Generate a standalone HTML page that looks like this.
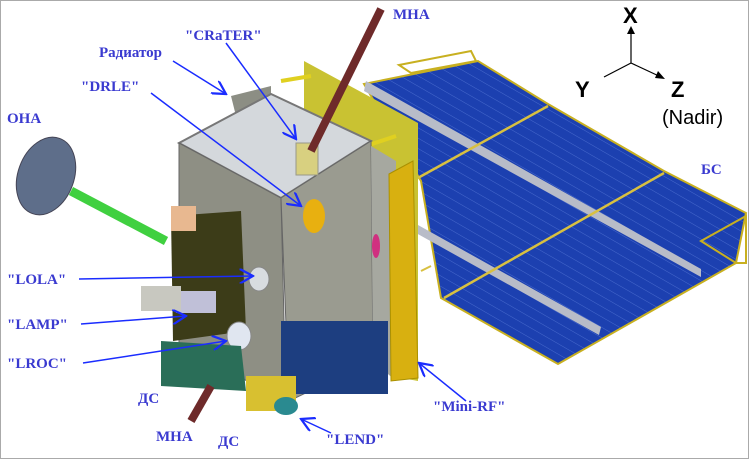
<!DOCTYPE html>
<html><head><meta charset="utf-8"><style>
body{margin:0;background:#fff}
#c{position:relative;width:749px;height:459px;overflow:hidden;box-sizing:border-box;border:1px solid #aaa;background:#fff}
svg{position:absolute;left:0;top:0}
.l{font-family:"Liberation Serif",serif;font-weight:bold;fill:#3a3ad0;font-size:15px}
.a{font-family:"Liberation Sans",sans-serif;fill:#000}
</style></head><body>
<div id="c">
<svg width="749" height="459" viewBox="0 0 749 459">
<defs>
<pattern id="sp" width="16" height="9" patternUnits="userSpaceOnUse" patternTransform="rotate(30)"><rect width="16" height="9" fill="#1c40b0"/><path d="M0 0H16" stroke="#5a7ad8" stroke-width="0.7"/></pattern>
<marker id="ar" markerWidth="10" markerHeight="10" refX="9" refY="5" orient="auto"><path d="M0 0L9 5L0 10" fill="none" stroke="#1a2cff" stroke-width="1.5"/></marker>
</defs>
<g>
<polygon points="363,83 477,60 547,103 663,170 745,212 735,262 557,363 440,297 420,180" fill="url(#sp)" stroke="#c8b020" stroke-width="2"/>
<polygon points="365,80 700,268 700,276 363,90" fill="#b8bcc8"/>
<polygon points="417,224 600,326 598,334 415,232" fill="#b8bcc8"/>
<line x1="415" y1="178" x2="547" y2="105" stroke="#d8c040" stroke-width="2.5"/>
<line x1="443" y1="297" x2="663" y2="172" stroke="#d8c040" stroke-width="2.5"/>
<line x1="420" y1="270" x2="430" y2="265" stroke="#d8c040" stroke-width="2"/>
<polygon points="398,64 470,50 475,60 410,72" fill="none" stroke="#c8b020" stroke-width="2"/>
<polygon points="700,240 745,215 745,262 735,262" fill="none" stroke="#c8b020" stroke-width="2"/>
</g>
<g>
<polygon points="303,60 417,122 417,380 390,375 303,300" fill="#c9c232"/>
<line x1="280" y1="80" x2="310" y2="75" stroke="#e0d020" stroke-width="4"/>
<line x1="365" y1="145" x2="395" y2="135" stroke="#e0d020" stroke-width="4"/>
</g>
<g>
<polygon points="230,95 270,85 270,100 235,115" fill="#8c8e84"/>
<polygon points="178,142 270,93 370,140 280,197" fill="#d4d8dc" stroke="#777" stroke-width="2"/>
<polygon points="178,142 280,197 285,400 178,345" fill="#8e8f84" stroke="#666"/>
<polygon points="280,197 370,140 372,360 288,400" fill="#9a9b90" stroke="#666"/>
<polygon points="370,145 395,160 395,380 372,360" fill="#a6a8a0"/>
<rect x="280" y="320" width="107" height="73" fill="#1d3e80"/>
<polygon points="388,173 412,160 417,377 390,380" fill="#d8b010" stroke="#aa9000"/>
<ellipse cx="313" cy="215" rx="11" ry="17" fill="#e8b010"/>
<rect x="295" y="142" width="22" height="32" fill="#d8d080" stroke="#998"/>
<ellipse cx="375" cy="245" rx="4" ry="12" fill="#d03080"/>
<polygon points="170,215 240,210 245,330 172,340" fill="#3c3c18"/>
<ellipse cx="258" cy="278" rx="10" ry="12" fill="#d8dce0" stroke="#888"/>
<ellipse cx="238" cy="335" rx="12" ry="14" fill="#e0e6f0" stroke="#888"/>
<rect x="175" y="290" width="40" height="22" fill="#c0c0d8"/>
<polygon points="160,340 240,345 245,390 160,385" fill="#2a6e58"/>
<rect x="245" y="375" width="50" height="35" fill="#d8c030"/>
<ellipse cx="285" cy="405" rx="12" ry="9" fill="#2a8a90"/>
<rect x="140" y="285" width="40" height="25" fill="#c8c8c0"/>
</g>
<g>
<ellipse cx="45" cy="175" rx="28" ry="40" transform="rotate(20 45 175)" fill="#5e6e8a" stroke="#445"/>
<line x1="70" y1="190" x2="165" y2="240" stroke="#40d040" stroke-width="9"/>
<rect x="170" y="205" width="25" height="25" fill="#e8b890"/>
</g>
<line x1="380" y1="8" x2="310" y2="150" stroke="#6e2a2a" stroke-width="8"/>
<line x1="210" y1="385" x2="190" y2="420" stroke="#6e2a2a" stroke-width="8"/>
<g stroke="#1a2cff" stroke-width="1.5" fill="none" marker-end="url(#ar)">
<line x1="172" y1="60" x2="225" y2="93"/>
<line x1="225" y1="42" x2="295" y2="138"/>
<line x1="150" y1="92" x2="300" y2="205"/>
<line x1="78" y1="278" x2="252" y2="275"/>
<line x1="80" y1="323" x2="185" y2="315"/>
<line x1="82" y1="362" x2="225" y2="340"/>
<line x1="465" y1="400" x2="418" y2="362"/>
<line x1="330" y1="432" x2="300" y2="418"/>
</g>
<text class="l" x="392" y="18">МНА</text>
<text class="l" x="98" y="56">Радиатор</text>
<text class="l" x="184" y="39">"CRaTER"</text>
<text class="l" x="80" y="90">"DRLE"</text>
<text class="l" x="6" y="122">ОНА</text>
<text class="l" x="6" y="283">"LOLA"</text>
<text class="l" x="6" y="328">"LAMP"</text>
<text class="l" x="6" y="367">"LROC"</text>
<text class="l" x="137" y="402">ДС</text>
<text class="l" x="155" y="440">МНА</text>
<text class="l" x="217" y="445">ДС</text>
<text class="l" x="325" y="443">"LEND"</text>
<text class="l" x="432" y="410">"Mini-RF"</text>
<text class="l" x="700" y="173">БС</text>
<g>
<line x1="630" y1="62" x2="630" y2="28" stroke="#000" stroke-width="1.2"/>
<path d="M626 33L630 25L634 33" fill="#000"/>
<line x1="630" y1="62" x2="603" y2="76" stroke="#000" stroke-width="1.2"/>
<line x1="630" y1="62" x2="660" y2="76" stroke="#000" stroke-width="1.2"/>
<path d="M654 77L664 78L657 70" fill="#000"/>
<text class="a" x="622" y="22" font-size="22" font-weight="bold">X</text>
<text class="a" x="574" y="96" font-size="22" font-weight="bold">Y</text>
<text class="a" x="670" y="96" font-size="22" font-weight="bold">Z</text>
<text class="a" x="661" y="123" font-size="20">(Nadir)</text>
</g>
</svg>
</div>
</body></html>
